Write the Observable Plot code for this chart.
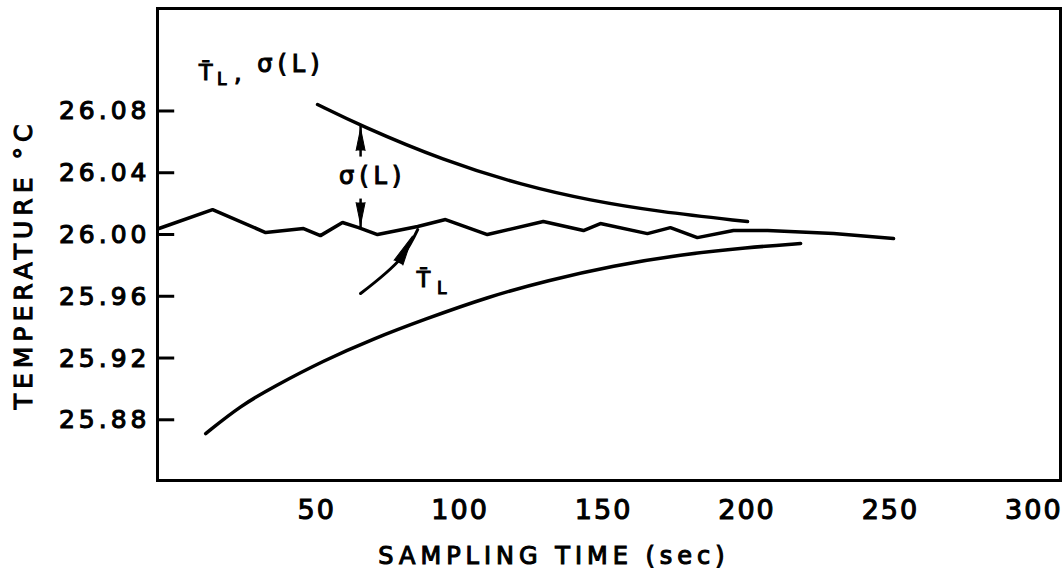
<!DOCTYPE html>
<html><head><meta charset="utf-8">
<script src="https://cdn.jsdelivr.net/npm/d3@7"></script>
<script src="https://cdn.jsdelivr.net/npm/@observablehq/plot@0.6"></script>
<style>
html,body{margin:0;padding:0;background:#fff;}
#chart svg text{stroke:black;stroke-width:1.1px;}
#chart svg [aria-label="y-axis tick label"] text{letter-spacing:4px;}
#chart svg [aria-label="x-axis tick label"] text{letter-spacing:2px;}
#chart svg .xlab text{letter-spacing:5px;}
#chart svg .ylab text{letter-spacing:5px;}
#chart svg .sig text{letter-spacing:5px;}
</style>
</head><body><div id="chart"></div>
<script>
// Running mean T̄_L (sec, °C)
const meanTime = [-5, 13.7, 32.2, 45.4, 51.3, 59.0, 64.6, 71.2, 85.2, 94.9, 109.5, 129.0, 143.0, 148.9, 165.3, 173.3, 182.7, 195.3, 207.2, 230.2, 251.1];
const meanTemp = [26.0042, 26.0165, 26.0016, 26.0042, 25.9996, 26.0081, 26.0048, 26.0003, 26.0055, 26.0100, 26.0003, 26.0087, 26.0029, 26.0074, 26.0009, 26.0048, 25.9983, 26.0029, 26.0029, 26.0009, 25.9977];
// Upper envelope T̄_L + σ(L)
const upperTime = [50.3, 65.2, 94.2, 122.1, 145.5, 168.8, 200.2];
const upperTemp = [26.0845, 26.0709, 26.0482, 26.0320, 26.0223, 26.0152, 26.0087];
// Lower envelope T̄_L − σ(L)
const lowerTime = [11.3, 23.5, 35.0, 52.4, 69.9, 87.3, 110.0, 130.4, 153.5, 176.8, 200.2, 218.7];
const lowerTemp = [25.8714, 25.8895, 25.9018, 25.9187, 25.9329, 25.9452, 25.9601, 25.9705, 25.9802, 25.9873, 25.9919, 25.9945];

const yTicks = [25.88, 25.92, 25.96, 26.00, 26.04, 26.08];
const yTickLabels = ["25.88", "25.92", "25.96", "26.00", "26.04", "26.08"];
const xTicks = [50, 100, 150, 200, 250, 300];
const xTickLabels = ["50", "100", "150", "200", "250", "300"];
const xLabel = "SAMPLING TIME (sec)";
const yLabel = "TEMPERATURE °C";
const xDomain = [-5.5, 309.3];
const yDomain = [25.841, 26.1467];

// annotation anchors (data units)
const sigmaLinks = [{t: 65.3, a: 26.0508, b: 26.0709}, {t: 65.3, a: 26.0236, b: 26.0042}];
const sigmaHeads = [{t: 65.3, T: 26.0547, dir: 0}, {t: 65.3, T: 26.0210, dir: 180}];
const meanPointer = [{t: 65.3, T: 25.9621}, {t: 79.2, T: 25.9847}, {t: 85.2, T: 26.0035}];
const meanPointerHead = [{t: 78.5, T: 25.9821, dir: 28}];
const labelsSigma = [
  {t: 69.5, T: 26.0378, s: "σ(L)"},
  {t: 41.0, T: 26.1108, s: "σ(L)"}
];
const labelsT = [
  {t: 87.2, T: 25.9710, s: "T\u0304"},
  {t: 11.3, T: 26.1050, s: "T\u0304"}
];
const labelsSub = [
  {t: 93.6, T: 25.9650, s: "L"},
  {t: 16.9, T: 26.1010, s: "L"}
];
const labelsComma = [{t: 22.5, T: 26.1050, s: ","}];

const mk = (ts, vs) => ts.map((t, i) => ({t, T: vs[i]}));
const meanData = mk(meanTime, meanTemp);
const upperData = mk(upperTime, upperTemp);
const lowerData = mk(lowerTime, lowerTemp);
const tickLenSec = 6;

const font = "DejaVu Sans";
const chart = Plot.plot({
  width: 1063, height: 581,
  marginLeft: 157, marginRight: 3, marginTop: 8, marginBottom: 101,
  x: {domain: xDomain},
  y: {domain: yDomain},
  style: {fontFamily: font, background: "white", color: "black"},
  marks: [
    Plot.frame({stroke: "black", strokeWidth: 3}),
    Plot.axisY(yTicks, {tickSize: 0, tickPadding: 7, fontSize: 25, tickFormat: (d, i) => yTickLabels[i], label: null}),
    Plot.axisX(xTicks, {tickSize: 0, tickPadding: 19, fontSize: 27, tickFormat: (d, i) => xTickLabels[i], label: null}),
    Plot.line(upperData, {x: "t", y: "T", curve: "basis", stroke: "black", strokeWidth: 3.5, strokeLinecap: "round"}),
    Plot.line(lowerData, {x: "t", y: "T", curve: "basis", stroke: "black", strokeWidth: 3.5, strokeLinecap: "round"}),
    Plot.line(meanData, {x: "t", y: "T", curve: "linear", stroke: "black", strokeWidth: 3.5, strokeLinejoin: "miter"}),
    Plot.link(sigmaLinks, {x1: "t", x2: "t", y1: "a", y2: "b", stroke: "black", strokeWidth: 2.5}),
    Plot.vector(sigmaHeads, {x: "t", y: "T", rotate: "dir", length: 22, r: 4.5, shape: "spike", anchor: "start", fill: "black", stroke: "black", strokeWidth: 1}),
    Plot.line(meanPointer, {x: "t", y: "T", curve: "catmull-rom", stroke: "black", strokeWidth: 3}),
    Plot.vector(meanPointerHead, {x: "t", y: "T", rotate: "dir", length: 30, r: 5, shape: "spike", anchor: "start", fill: "black", stroke: "black", strokeWidth: 1}),
    Plot.text(labelsSigma, {x: "t", y: "T", text: "s", fontSize: 24, fill: "black", className: "sig"}),
    Plot.text(labelsT, {x: "t", y: "T", text: "s", fontSize: 22, fill: "black"}),
    Plot.text(labelsSub, {x: "t", y: "T", text: "s", fontSize: 17, fill: "black"}),
    Plot.text(labelsComma, {x: "t", y: "T", text: "s", fontSize: 24, fill: "black"}),
    Plot.text([xLabel], {frameAnchor: "bottom", dx: -55, dy: 76, textAnchor: "middle", lineAnchor: "middle", fontSize: 24, fill: "black", className: "xlab"}),
    Plot.text([yLabel], {frameAnchor: "left", dx: -134, dy: 20, textAnchor: "middle", lineAnchor: "middle", rotate: -90, fontSize: 25, fill: "black", className: "ylab"})
  ]
});
// inward y-axis ticks, positioned through the chart's own scales
const sx = chart.scale("x"), sy = chart.scale("y");
d3.select(chart).append("g").attr("aria-label", "y-axis inward tick")
  .selectAll("line").data(yTicks).join("line")
  .attr("x1", sx.apply(xDomain[0]))
  .attr("x2", sx.apply(xDomain[0] + tickLenSec))
  .attr("y1", d => sy.apply(d))
  .attr("y2", d => sy.apply(d))
  .attr("stroke", "black").attr("stroke-width", 3);
document.getElementById("chart").appendChild(chart);
</script>
</body></html>
